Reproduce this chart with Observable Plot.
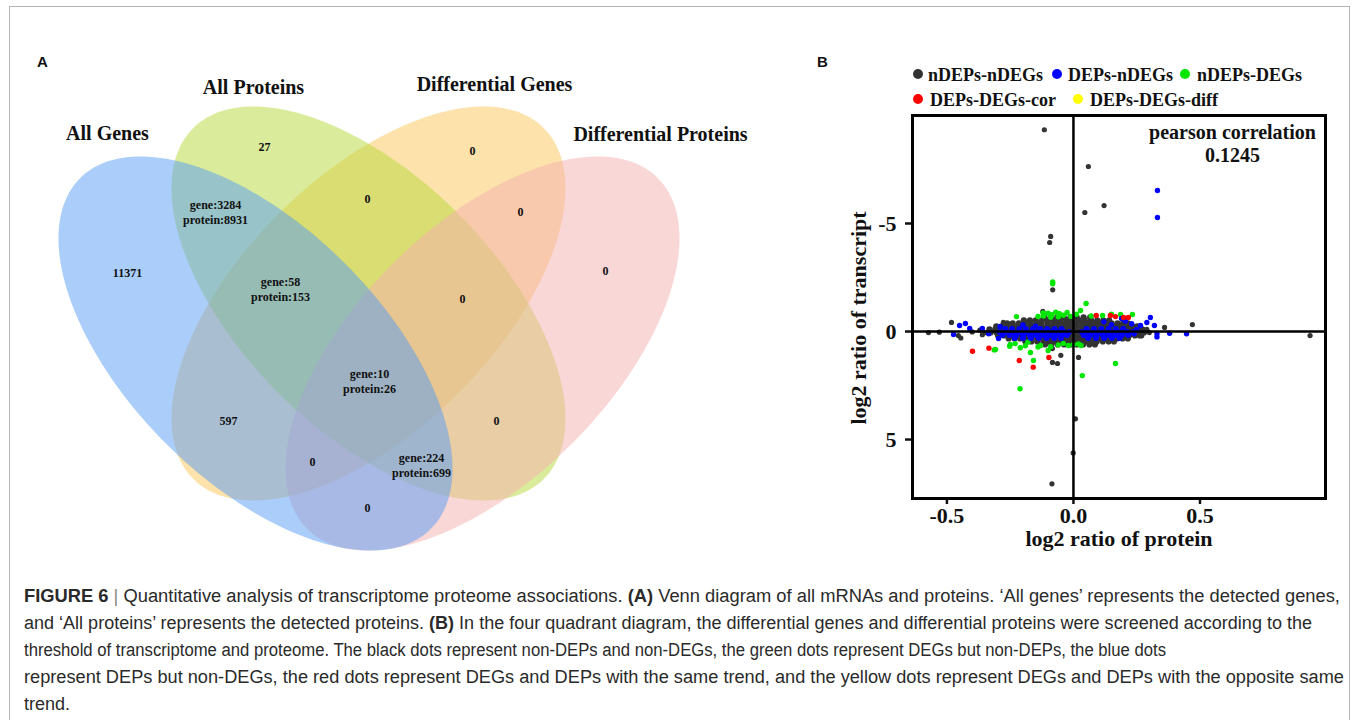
<!DOCTYPE html>
<html>
<head>
<meta charset="utf-8">
<script src="https://cdn.jsdelivr.net/npm/d3@7"></script>
<script src="https://cdn.jsdelivr.net/npm/@observablehq/plot@0.6"></script>
<style>
  html, body { margin: 0; padding: 0; background: #fff; }
  body { width: 1357px; height: 720px; position: relative; overflow: hidden; }
  #border { position: absolute; left: 9px; top: 6px; width: 1339px; height: 780px; border: 1px solid #b4b4b4; }
  .panel { position: absolute; font: bold 15px "Liberation Sans", Arial, sans-serif; color: #111; }
  #venn { position: absolute; left: 0; top: 0; }
  #scatter { position: absolute; left: 830px; top: 105px; }
  #scatter svg g[aria-label$="tick"] { stroke-width: 2.5px; }
  .leg { position: absolute; font: bold 18px "Liberation Serif", "Times New Roman", serif; color: #111; white-space: nowrap; line-height: 20px; }
  .legdot { position: absolute; width: 10px; height: 10px; border-radius: 50%; }
  #caption { position: absolute; left: 24px; top: 583px; font: 18px "Liberation Sans", Arial, sans-serif; color: #2a2a2a; line-height: 27px; white-space: nowrap; }
  #caption .cl { display: block; height: 27px; }
  #caption .cl span.t { display: inline-block; transform-origin: 0 50%; }
  #caption b { font-weight: bold; }
  #caption .sep { color: #888; }
</style>
</head>
<body>
<div id="border"></div>
<div id="venn"></div>
<div class="panel" style="left:37px; top:53px;">A</div>
<div class="panel" style="left:817px; top:53px;">B</div>
<div id="legend"></div>
<div id="scatter"></div>
<div id="caption">
<div class="cl"><span class="t" data-w="1316"><b>FIGURE 6</b> <span class="sep">|</span> Quantitative analysis of transcriptome proteome associations. <b>(A)</b> Venn diagram of all mRNAs and proteins. ‘All genes’ represents the detected genes,</span></div>
<div class="cl"><span class="t" data-w="1288">and ‘All proteins’ represents the detected proteins. <b>(B)</b> In the four quadrant diagram, the differential genes and differential proteins were screened according to the</span></div>
<div class="cl"><span class="t" data-w="1142">threshold of transcriptome and proteome. The black dots represent non-DEPs and non-DEGs, the green dots represent DEGs but non-DEPs, the blue dots</span></div>
<div class="cl"><span class="t" data-w="1320">represent DEPs but non-DEGs, the red dots represent DEGs and DEPs with the same trend, and the yellow dots represent DEGs and DEPs with the opposite same</span></div>
<div class="cl"><span class="t">trend.</span></div>
</div>
<script>
// ---------------- Panel A: Venn diagram data ----------------
const vennSets = ["All Genes", "All Proteins", "Differential Genes", "Differential Proteins"];
const vennColors = ["#559BF5", "#B5D737", "#FBC559", "#F5AFAF"];
const vennCx = [255, 368, 368, 482];
const vennCy = [353, 303, 303, 353];
const vennAngle = [45, 45, -45, -45];
const vennSemiMajor = 248;
const vennSemiMinor = 127;
const vennDrawOrder = [2, 1, 3, 0];
const vennTitleX = [107, 253, 494, 660];
const vennTitleY = [133, 87, 84, 134];
const vennRegionText = ["27", "0", "gene:3284\nprotein:8931", "0", "0", "11371", "0", "gene:58\nprotein:153", "0", "gene:10\nprotein:26", "597", "0", "0", "gene:224\nprotein:699", "0"];
const vennRegionX = [264, 472, 215, 367, 520, 127, 605, 280, 462, 369, 228, 496, 312, 421, 367];
const vennRegionY = [146, 150, 211, 198, 211, 272, 270, 288, 298, 380, 420, 420, 461, 464, 507];

// ---------------- Panel B: scatter data ----------------
const categories = ["nDEPs-nDEGs", "DEPs-nDEGs", "nDEPs-DEGs", "DEPs-DEGs-cor", "DEPs-DEGs-diff"];
const categoryColors = ["#333333", "#0000ff", "#00e600", "#ff0000", "#ffff00"];
const xTicks = [-0.5, 0, 0.5];
const yTicks = [-5, 0, 5];
const corrLabel = "pearson correlation";
const corrValue = "0.1245";
const xLabel = "log2 ratio of protein";
const yLabel = "log2 ratio of transcript";

// dense core of nDEPs-nDEGs, by rows (y, x values)
const blackCoreRows = [
  {y: -0.66, x: [-0.115,-0.09,-0.064,-0.038,-0.012,0.013,0.04,0.066]},
  {y: -0.52, x: [-0.196,-0.172,-0.149,-0.124,-0.1,-0.077,-0.053,-0.028,-0.004,0.021,0.045,0.07,0.094,0.118,0.141]},
  {y: -0.38, x: [-0.262,-0.24,-0.216,-0.193,-0.171,-0.147,-0.126,-0.102,-0.079,-0.057,-0.033,-0.011,0.012,0.036,0.058,0.081,0.105,0.128,0.151,0.174,0.196,0.216]},
  {y: -0.24, x: [-0.305,-0.283,-0.261,-0.238,-0.216,-0.193,-0.171,-0.149,-0.126,-0.104,-0.082,-0.059,-0.037,-0.014,0.008,0.031,0.053,0.076,0.098,0.121,0.143,0.166,0.188,0.211,0.233,0.252]},
  {y: -0.10, x: [-0.332,-0.309,-0.287,-0.264,-0.242,-0.22,-0.197,-0.175,-0.152,-0.13,-0.108,-0.085,-0.063,-0.04,-0.018,0.004,0.027,0.049,0.072,0.094,0.116,0.139,0.161,0.184,0.206,0.228,0.251,0.272]},
  {y: 0.04, x: [-0.327,-0.304,-0.281,-0.259,-0.236,-0.214,-0.191,-0.169,-0.146,-0.124,-0.101,-0.079,-0.056,-0.034,-0.011,0.011,0.034,0.056,0.079,0.101,0.124,0.146,0.169,0.191,0.214,0.236,0.259,0.279]},
  {y: 0.18, x: [-0.298,-0.275,-0.252,-0.23,-0.207,-0.185,-0.162,-0.14,-0.117,-0.095,-0.072,-0.05,-0.027,-0.005,0.018,0.04,0.063,0.085,0.108,0.13,0.153,0.175,0.198,0.22,0.243,0.262]},
  {y: 0.32, x: [-0.256,-0.233,-0.211,-0.188,-0.166,-0.143,-0.121,-0.098,-0.076,-0.053,-0.031,-0.008,0.014,0.037,0.059,0.082,0.104,0.127,0.149,0.172,0.194,0.215]},
  {y: 0.46, x: [-0.19,-0.166,-0.143,-0.119,-0.096,-0.072,-0.049,-0.025,-0.002,0.022,0.045,0.069,0.092,0.116,0.139,0.16]},
  {y: 0.60, x: [-0.112,-0.087,-0.062,-0.037,-0.012,0.013,0.038,0.063,0.085]}
];
const blackScatter = [
  [-0.115,-9.34],[0.059,-7.64],[0.121,-5.83],[0.045,-5.51],[-0.09,-4.4],[-0.094,-4.12],[-0.082,-1.93],
  [-0.121,-0.93],[-0.482,-0.42],[-0.455,0.19],[-0.573,0.05],[-0.53,0.03],[-0.348,0.05],[-0.277,-0.42],
  [-0.083,0.79],[-0.083,1.43],[-0.063,1.48],[0.02,1.2],[-0.05,1.1],[0.36,-0.19],[0.47,-0.32],[0.935,0.19],
  [0.008,4.04],[-0.001,5.62],[-0.085,7.05],[-0.4,0.02],[-0.37,-0.06],[-0.36,0.15],[0.3,0.05],[0.29,-0.1],
  [0.27,0.2],[-0.445,0.3]
];
const blueCoreRows = [
  {y: -0.12, x: [-0.27,-0.243,-0.214,-0.188,-0.16,-0.132,-0.104,-0.075,-0.047,0.052,0.081,0.11,0.139,0.168,0.197]},
  {y: 0.02, x: [-0.292,-0.266,-0.241,-0.215,-0.19,-0.164,-0.139,-0.114,-0.088,-0.063,-0.038,-0.018,0.034,0.059,0.085,0.11,0.136,0.161,0.187,0.212,0.236]},
  {y: 0.16, x: [-0.281,-0.253,-0.226,-0.199,-0.173,-0.147,-0.121,-0.095,-0.069,-0.045,-0.026,0.041,0.066,0.091,0.116,0.141,0.166,0.191,0.216]},
  {y: 0.30, x: [-0.232,-0.2,-0.168,-0.137,-0.106,-0.076,-0.049,0.058,0.089,0.121,0.152,0.182]}
];
const blueScatter = [
  [0.332,-6.53],[0.332,-5.28],[0.304,-0.65],[0.29,-0.42],[0.32,-0.28],[0.33,0.1],[0.33,0.25],[0.38,0.08],
  [0.447,0.1],[0.265,-0.28],[-0.45,-0.28],[-0.427,-0.37],[-0.41,-0.14],[-0.474,0.14],[-0.36,-0.14],
  [-0.335,0.1],[-0.29,-0.23],[-0.296,0.32],[0.19,-0.6],[0.205,-0.48],[0.15,-0.32],[0.23,-0.36],[0.12,-0.45],
  [-0.2,-0.3],[-0.15,-0.25],[0.24,0.1],[0.25,-0.1]
];
const greenPoints = [
  [-0.118,-0.72],[-0.1,-0.85],[-0.085,-0.78],[-0.07,-0.9],[-0.055,-0.82],[-0.04,-0.75],[-0.025,-0.88],[-0.01,-0.7],
  [-0.06,-0.68],[-0.09,-0.66],[0.028,-0.97],[0.05,-1.3],[0.115,-0.74],[0.186,-0.79],[0.233,-0.79],[0.07,-0.72],
  [0.15,-0.8],[-0.225,-0.69],[-0.14,-0.7],[-0.082,-2.21],[-0.082,-2.29],[-0.12,-0.86],[0.012,-0.8],
  [-0.308,0.83],[-0.25,0.6],[-0.23,0.56],[-0.18,0.5],[-0.17,0.97],[-0.158,1.34],[-0.13,0.65],[-0.1,0.88],
  [-0.21,0.75],[-0.19,0.66],[-0.06,0.62],[-0.04,0.55],[-0.02,0.65],[0.0,0.6],[0.02,0.58],[0.03,0.65],
  [0.166,1.48],[0.035,2.04],[-0.211,2.65],[-0.14,0.72],[-0.09,0.7],[-0.252,0.68],[-0.313,0.85]
];
const redPoints = [
  [-0.399,0.91],[-0.334,0.77],[-0.214,1.34],[-0.159,1.65],[-0.097,1.2],
  [0.09,-0.74],[0.146,-0.74],[0.166,-0.69],[0.198,-0.65],[0.217,-0.65]
];
const yellowPoints = [];

const xDomain = [-0.636, 0.996];
const yDomain = [7.73, -10];

// ---------------- Build Venn ----------------
function ellipseOutline(i) {
  const pts = [];
  const th = vennAngle[i] * Math.PI / 180;
  for (let k = 0; k < 180; k++) {
    const t = k / 180 * 2 * Math.PI;
    const ex = vennSemiMajor * Math.cos(t), ey = vennSemiMinor * Math.sin(t);
    pts.push({x: vennCx[i] + ex * Math.cos(th) - ey * Math.sin(th),
              y: vennCy[i] + ex * Math.sin(th) + ey * Math.cos(th)});
  }
  return pts;
}
const vennTitles = vennSets.map((s, i) => ({text: s, x: vennTitleX[i], y: vennTitleY[i]}));
const vennRegions = vennRegionText.map((t, i) => ({text: t, x: vennRegionX[i], y: vennRegionY[i]}));

const vennPlot = Plot.plot({
  width: 800, height: 560,
  margin: 0,
  x: {domain: [0, 800], range: [0, 800], axis: null},
  y: {domain: [0, 560], range: [0, 560], axis: null},
  style: {background: "transparent", fontFamily: "'Liberation Serif', 'Times New Roman', serif", overflow: "visible"},
  marks: [
    ...vennDrawOrder.map(i => Plot.line(ellipseOutline(i), {
      x: "x", y: "y", curve: "linear-closed", fill: vennColors[i], fillOpacity: 0.5, stroke: "none"
    })),
    Plot.text(vennTitles, {x: "x", y: "y", text: "text", fontSize: 20, fontWeight: "bold", fill: "#111", style: "word-spacing:4px"}),
    Plot.text(vennRegions, {x: "x", y: "y", text: "text", fontSize: 12, fontWeight: "bold", fill: "#111", lineHeight: 1.25})
  ]
});
document.getElementById("venn").appendChild(vennPlot);

// ---------------- Build scatter ----------------
const flatRows = rows => rows.flatMap(r => r.x.map(x => [x, r.y]));
const groups = [
  {cat: 0, pts: flatRows(blackCoreRows), r: 3.1},
  {cat: 0, pts: blackScatter, r: 2.6},
  {cat: 2, pts: greenPoints, r: 2.7},
  {cat: 1, pts: flatRows(blueCoreRows), r: 3.0},
  {cat: 1, pts: blueScatter, r: 2.7},
  {cat: 3, pts: redPoints, r: 2.7},
  {cat: 4, pts: yellowPoints, r: 2.7}
];

const scatter = Plot.plot({
  width: 510, height: 455,
  marginLeft: 82, marginRight: 15, marginTop: 10, marginBottom: 62,
  x: {domain: xDomain, ticks: xTicks, tickFormat: d => d.toFixed(1), tickSize: 6, tickPadding: 3, label: null},
  y: {domain: yDomain, ticks: yTicks, tickFormat: d => String(d), tickSize: 7, tickPadding: 9, label: null},
  style: {background: "transparent", fontFamily: "'Liberation Serif', 'Times New Roman', serif", fontWeight: "bold", fontSize: "22px", color: "#111", overflow: "visible"},
  marks: [
    ...groups.map(g => Plot.dot(g.pts, {x: d => d[0], y: d => d[1], r: g.r, fill: categoryColors[g.cat], stroke: "none"})),
    Plot.ruleX([0], {stroke: "#000", strokeWidth: 2.5}),
    Plot.ruleY([0], {stroke: "#000", strokeWidth: 2.5}),
    Plot.frame({stroke: "#000", strokeWidth: 3}),
    Plot.text([corrLabel + "\n" + corrValue], {frameAnchor: "top-right", dx: -93, dy: 7, textAnchor: "middle", lineAnchor: "top", fontSize: 20, lineHeight: 1.15, fill: "#111"}),
    Plot.text([xLabel], {frameAnchor: "bottom", dy: 40, lineAnchor: "middle", textAnchor: "middle", fontSize: 22, fill: "#111"}),
    Plot.text([yLabel], {frameAnchor: "left", dx: -54, dy: 11, rotate: -90, lineAnchor: "middle", textAnchor: "middle", fontSize: 22, fill: "#111"})
  ]
});
document.getElementById("scatter").appendChild(scatter);

// ---------------- Legend ----------------
const legendDotX = [918, 1057, 1185, 918, 1078];
const legendTextX = [928, 1068, 1197, 930, 1090];
const legendRowY = [75, 75, 75, 100, 100];
const legend = document.getElementById("legend");
categories.forEach((c, i) => {
  const dot = document.createElement("div");
  dot.className = "legdot";
  dot.style.left = (legendDotX[i] - 5) + "px";
  dot.style.top = (legendRowY[i] - 6) + "px";
  dot.style.background = categoryColors[i];
  legend.appendChild(dot);
  const t = document.createElement("div");
  t.className = "leg";
  t.style.left = legendTextX[i] + "px";
  t.style.top = (legendRowY[i] - 10) + "px";
  t.textContent = c;
  legend.appendChild(t);
});

// ---------------- Caption line fitting (horizontal scale to reference line lengths) ----------------
document.querySelectorAll("#caption span.t[data-w]").forEach(s => {
  const target = +s.dataset.w;
  const w = s.getBoundingClientRect().width;
  s.style.transform = "scaleX(" + (target / w).toFixed(4) + ")";
});
</script>
</body>
</html>
